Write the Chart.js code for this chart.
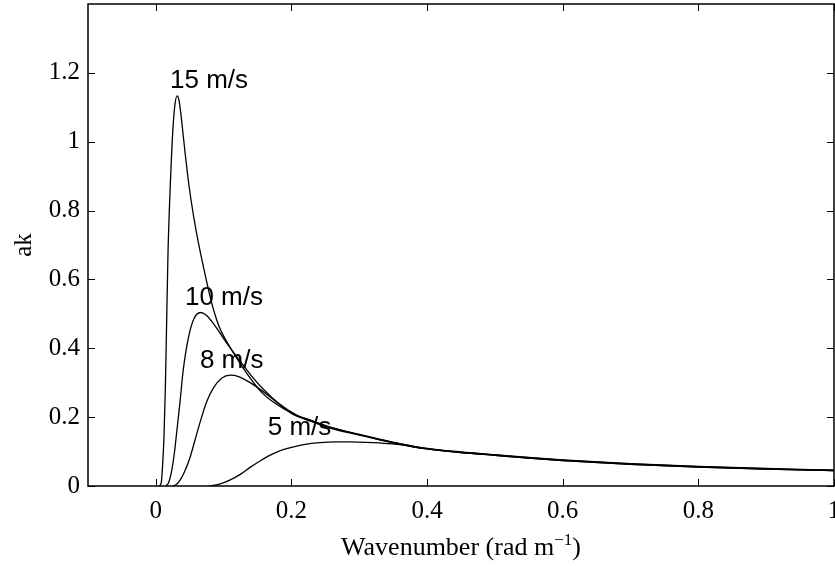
<!DOCTYPE html>
<html>
<head>
<meta charset="utf-8">
<script src="https://cdn.jsdelivr.net/npm/chart.js@4.4.0/dist/chart.umd.min.js"></script>
<style>
  html, body { margin: 0; padding: 0; background: #fff; }
  #wrap { width: 835px; height: 566px; position: relative; }
</style>
</head>
<body>
<div id="wrap"><canvas id="akChart"></canvas></div>
<script>
// wind speed curves: wavenumber k (rad/m) against ak
const k15 = [0.005, 0.008, 0.010, 0.012, 0.014, 0.016, 0.018, 0.0217, 0.025, 0.028, 0.0314, 0.034, 0.037, 0.040, 0.0435, 0.047, 0.052, 0.060, 0.0748, 0.0807, 0.086, 0.092, 0.097, 0.105, 0.1165, 0.136, 0.156, 0.171, 0.207, 0.23, 0.257, 0.30, 0.33, 0.36, 0.394, 0.45, 0.5, 0.55, 0.6, 0.7, 0.8, 0.9, 1.0];
const ak15 = [0, 0.01, 0.06, 0.14, 0.28, 0.48, 0.68, 0.89, 1.03, 1.105, 1.133, 1.122, 1.08, 1.025, 0.962, 0.902, 0.83, 0.735, 0.595, 0.545, 0.506, 0.47, 0.447, 0.418, 0.38, 0.322, 0.272, 0.247, 0.205, 0.189, 0.170, 0.149, 0.135, 0.122, 0.110, 0.098, 0.090, 0.082, 0.075, 0.064, 0.056, 0.050, 0.045];

const k10 = [0.015, 0.019, 0.023, 0.027, 0.031, 0.036, 0.040, 0.048, 0.056, 0.066, 0.074, 0.0822, 0.092, 0.1, 0.1165, 0.141, 0.16, 0.18, 0.207, 0.23, 0.257, 0.30, 0.33, 0.36, 0.394, 0.45, 0.5, 0.55, 0.6, 0.7, 0.8, 0.9, 1.0];
const ak10 = [0, 0.01, 0.04, 0.09, 0.16, 0.25, 0.33, 0.43, 0.485, 0.504, 0.497, 0.479, 0.452, 0.428, 0.383, 0.320, 0.278, 0.242, 0.207, 0.190, 0.171, 0.150, 0.136, 0.123, 0.111, 0.099, 0.091, 0.083, 0.076, 0.065, 0.057, 0.051, 0.046];

const k8 = [0.026, 0.031, 0.036, 0.042, 0.050, 0.058, 0.066, 0.075, 0.085, 0.097, 0.110, 0.122, 0.141, 0.171, 0.2, 0.23, 0.257, 0.30, 0.33, 0.36, 0.394, 0.45, 0.5, 0.55, 0.6, 0.7, 0.8, 0.9, 1.0];
const ak8 = [0, 0.006, 0.018, 0.04, 0.08, 0.135, 0.19, 0.245, 0.285, 0.313, 0.322, 0.318, 0.298, 0.255, 0.211, 0.187, 0.168, 0.148, 0.134, 0.121, 0.109, 0.097, 0.089, 0.081, 0.074, 0.063, 0.055, 0.049, 0.045];

const k5 = [0.08, 0.095, 0.109, 0.124, 0.139, 0.153, 0.165, 0.18, 0.2, 0.22, 0.242, 0.265, 0.286, 0.31, 0.33, 0.36, 0.394, 0.45, 0.5, 0.55, 0.6, 0.7, 0.8, 0.9, 1.0];
const ak5 = [0, 0.006, 0.017, 0.033, 0.054, 0.072, 0.086, 0.100, 0.112, 0.121, 0.126, 0.128, 0.128, 0.127, 0.125, 0.120, 0.109, 0.097, 0.089, 0.081, 0.074, 0.063, 0.055, 0.049, 0.045];

const speeds = ['15 m/s', '10 m/s', '8 m/s', '5 m/s'];
const xTicks = [0, 0.2, 0.4, 0.6, 0.8, 1];
const yTicks = [0, 0.2, 0.4, 0.6, 0.8, 1, 1.2];

// where each speed label sits (left edge, baseline) in data units
const labelAt = [
    { k: 0.021, ak: 1.157 },
    { k: 0.043, ak: 0.525 },
    { k: 0.065, ak: 0.342 },
    { k: 0.165, ak: 0.148 }
];

const SERIF = '"Liberation Serif", "Times New Roman", Times, serif';
const SANS = '"Liberation Sans", Arial, Helvetica, sans-serif';

function pts(ks, vals) {
    return ks.map((k, i) => ({ x: k, y: vals[i] }));
}

function curve(ks, vals) {
    return {
        data: pts(ks, vals),
        showLine: true,
        borderColor: '#000',
        borderWidth: 1.3,
        pointRadius: 0,
        cubicInterpolationMode: 'monotone',
        fill: false
    };
}

function noPad(s) {
    s.paddingLeft = 0;
    s.paddingRight = 0;
    s.paddingTop = 0;
    s.paddingBottom = 0;
}

// box around the axes with inward ticks, titles and speed labels
const matlabFrame = {
    id: 'matlabFrame',
    afterDatasetsDraw(chart) {
        const { ctx, chartArea: a, scales: { x, y } } = chart;
        ctx.save();
        ctx.strokeStyle = '#000';
        ctx.lineWidth = 1.5;
        ctx.strokeRect(a.left, a.top, a.right - a.left, a.bottom - a.top);

        ctx.lineWidth = 1;
        ctx.beginPath();
        xTicks.forEach(v => {
            const px = Math.round(x.getPixelForValue(v)) + 0.5;
            ctx.moveTo(px, a.bottom); ctx.lineTo(px, a.bottom - 7);
            ctx.moveTo(px, a.top); ctx.lineTo(px, a.top + 7);
        });
        yTicks.forEach(v => {
            const py = Math.round(y.getPixelForValue(v)) + 0.5;
            ctx.moveTo(a.left, py); ctx.lineTo(a.left + 7, py);
            ctx.moveTo(a.right, py); ctx.lineTo(a.right - 7, py);
        });
        ctx.stroke();

        // speed labels
        ctx.fillStyle = '#000';
        ctx.font = '26px ' + SANS;
        ctx.textAlign = 'left';
        ctx.textBaseline = 'alphabetic';
        speeds.forEach((s, i) => {
            ctx.fillText(s, x.getPixelForValue(labelAt[i].k), y.getPixelForValue(labelAt[i].ak));
        });

        // x title with superscript
        const main = 'Wavenumber (rad m';
        const sup = '\u22121';
        const tail = ')';
        ctx.font = '26px ' + SERIF;
        const w1 = ctx.measureText(main).width;
        const w3 = ctx.measureText(tail).width;
        ctx.font = '17px ' + SERIF;
        const w2 = ctx.measureText(sup).width;
        const cx = (a.left + a.right) / 2;
        let tx = cx - (w1 + w2 + w3) / 2;
        const base = 555;
        ctx.font = '26px ' + SERIF;
        ctx.fillText(main, tx, base);
        tx += w1;
        ctx.font = '17px ' + SERIF;
        ctx.fillText(sup, tx, base - 10);
        tx += w2;
        ctx.font = '26px ' + SERIF;
        ctx.fillText(tail, tx, base);

        // y title
        ctx.save();
        ctx.translate(24, (a.top + a.bottom) / 2);
        ctx.rotate(-Math.PI / 2);
        ctx.textAlign = 'center';
        ctx.textBaseline = 'middle';
        ctx.font = '25px ' + SERIF;
        ctx.fillText('ak', 0, 0);
        ctx.restore();

        ctx.restore();
    }
};

new Chart(document.getElementById('akChart'), {
    type: 'scatter',
    data: {
        datasets: [
            curve(k15, ak15),
            curve(k10, ak10),
            curve(k8, ak8),
            curve(k5, ak5)
        ]
    },
    options: {
        responsive: true,
        maintainAspectRatio: false,
        animation: false,
        events: [],
        layout: { autoPadding: false, padding: { top: 4, right: 1, left: 0, bottom: 0 } },
        plugins: { legend: { display: false }, tooltip: { enabled: false } },
        scales: {
            x: {
                type: 'linear',
                min: -0.1,
                max: 1,
                grid: { display: false, drawTicks: false },
                border: { display: false },
                afterBuildTicks: s => { s.ticks = xTicks.map(v => ({ value: v })); },
                afterFit: s => { s.height = 80; noPad(s); },
                ticks: {
                    color: '#000',
                    padding: 10,
                    maxRotation: 0,
                    font: { family: SERIF, size: 25 },
                    callback: v => String(v)
                }
            },
            y: {
                min: 0,
                max: 1.4,
                grid: { display: false, drawTicks: false },
                border: { display: false },
                afterBuildTicks: s => { s.ticks = yTicks.map(v => ({ value: v })); },
                afterFit: s => { s.width = 88; noPad(s); },
                ticks: {
                    color: '#000',
                    padding: 8,
                    font: { family: SERIF, size: 25 },
                    callback: v => String(v)
                }
            }
        }
    },
    plugins: [matlabFrame]
});
</script>
</body>
</html>
